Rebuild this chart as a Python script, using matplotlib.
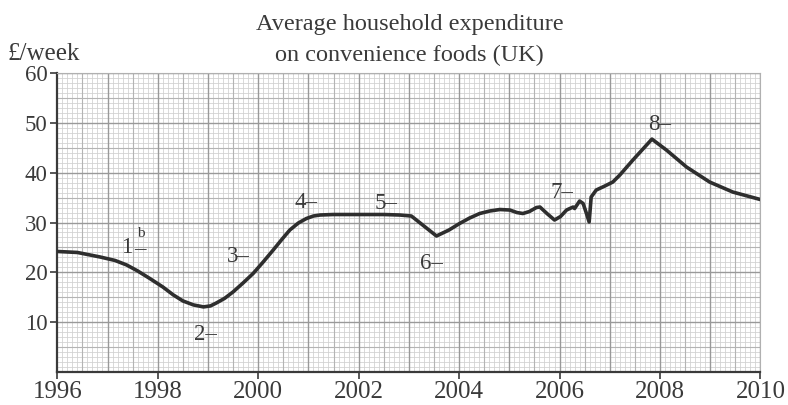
import numpy as np
import matplotlib
matplotlib.use("Agg")
import matplotlib.pyplot as plt
from matplotlib.ticker import FixedLocator

plt.rcParams['font.family'] = ['Liberation Serif', 'DejaVu Serif']

# ---- data ----
years = [1996.0, 1996.4, 1996.85, 1997.15, 1997.38, 1997.6, 1997.84, 1998.1, 1998.31,
         1998.5, 1998.71, 1998.91, 1999.05, 1999.17, 1999.33, 1999.5, 1999.7, 1999.9,
         2000.1, 2000.3, 2000.47, 2000.63, 2000.8, 2000.96, 2001.1, 2001.23, 2001.49,
         2002.0, 2002.5, 2002.82, 2003.05, 2003.3, 2003.55, 2003.8, 2004.01, 2004.21,
         2004.41, 2004.61, 2004.81, 2005.01, 2005.15, 2005.27, 2005.4, 2005.54, 2005.61,
         2005.75, 2005.9, 2006.02, 2006.14, 2006.27, 2006.3, 2006.4, 2006.47, 2006.53,
         2006.59, 2006.63, 2006.73, 2006.9, 2007.06, 2007.2, 2007.46, 2007.65, 2007.84,
         2008.13, 2008.53, 2008.99, 2009.45, 2010.0]
spend = [24.2, 24.0, 23.1, 22.4, 21.5, 20.3, 18.8, 17.1, 15.5,
         14.3, 13.5, 13.1, 13.3, 13.9, 14.8, 16.1, 17.9, 19.8,
         22.1, 24.5, 26.6, 28.5, 29.9, 30.8, 31.3, 31.5, 31.6,
         31.6, 31.6, 31.5, 31.3, 29.3, 27.3, 28.5, 29.8, 30.9,
         31.8, 32.3, 32.6, 32.5, 32.0, 31.8, 32.2, 33.0, 33.1,
         31.8, 30.5, 31.2, 32.5, 33.1, 32.8, 34.3, 33.8, 32.0,
         30.1, 35.1, 36.5, 37.3, 38.1, 39.5, 42.5, 44.6, 46.7,
         44.5, 41.1, 38.1, 36.1, 34.6]

label_text = ["1", "2", "3", "4", "5", "6", "7", "8"]
label_year = [1997.41, 1998.94, 1999.60, 2000.95, 2002.55, 2003.45, 2006.04, 2007.99]
label_val = [24.9, 7.5, 23.1, 34.1, 33.8, 21.8, 36.1, 49.7]

x_ticks = [1996, 1998, 2000, 2002, 2004, 2006, 2008, 2010]
y_ticks = [10, 20, 30, 40, 50, 60]
title_lines = ["Average household expenditure", "on convenience foods (UK)"]
y_unit = "£/week"

# ---- figure ----
fig = plt.figure(figsize=(7.88, 4.05), dpi=100)
ax = fig.add_axes([0.0727, 0.0807, 0.8923, 0.7398])
ax.set_xlim(1996, 2010)
ax.set_ylim(0, 60)

ink = "#3a3a3a"

# graph-paper grid
for xv in np.arange(1996, 2010.001, 0.1):
    ax.axvline(xv, color="#d0d0d0", lw=0.55, zorder=0)
for yv in np.arange(0, 60.001, 1):
    ax.axhline(yv, color="#d0d0d0", lw=0.55, zorder=0)
for xv in np.arange(1996.5, 2010, 1.0):
    ax.axvline(xv, color="#b4b4b4", lw=0.8, zorder=0)
for yv in np.arange(5, 60, 10):
    ax.axhline(yv, color="#b4b4b4", lw=0.8, zorder=0)
for xv in np.arange(1997, 2010.001, 1.0):
    ax.axvline(xv, color="#999999", lw=1.0, zorder=0)
for yv in np.arange(10, 60.001, 10):
    ax.axhline(yv, color="#999999", lw=1.0, zorder=0)

ax.plot(years, spend, color="#2e2e2e", lw=2.6, solid_capstyle="round",
        solid_joinstyle="round", zorder=3)

for t, xv, yv in zip(label_text, label_year, label_val):
    if t == "1":
        ax.text(xv - 0.03, yv, "1", fontsize=16.5, color=ink, ha="center", va="center")
        ax.text(xv + 0.24, yv - 0.3, "–", fontsize=16.5, color=ink, ha="center", va="center")
        ax.text(xv + 0.25, yv + 2.9, "b", fontsize=11, color=ink, ha="center", va="center")
    else:
        ax.text(xv, yv, t + "–", fontsize=16.5, color=ink, ha="center", va="center")

for s in ["top", "right"]:
    ax.spines[s].set_color("#b0b0b0")
    ax.spines[s].set_linewidth(0.8)
for s in ["left", "bottom"]:
    ax.spines[s].set_color(ink)
    ax.spines[s].set_linewidth(1.6)

ax.xaxis.set_major_locator(FixedLocator(x_ticks))
ax.yaxis.set_major_locator(FixedLocator(y_ticks))
ax.set_xticklabels([str(v) for v in x_ticks])
ax.set_yticklabels([str(v) for v in y_ticks])
ax.tick_params(axis="both", direction="out", length=5, width=1.2, color=ink,
               labelcolor=ink, pad=2)
ax.tick_params(axis="x", labelsize=18, pad=1.5)
ax.tick_params(axis="y", labelsize=16.5)

fig.text(0.52, 0.940, title_lines[0], ha="center", va="center", fontsize=17.5, color=ink)
fig.text(0.52, 0.862, title_lines[1], ha="center", va="center", fontsize=17.5, color=ink)
fig.text(0.010, 0.866, y_unit, ha="left", va="center", fontsize=18, color=ink)

fig.savefig("out.png", dpi=100, facecolor="white")
